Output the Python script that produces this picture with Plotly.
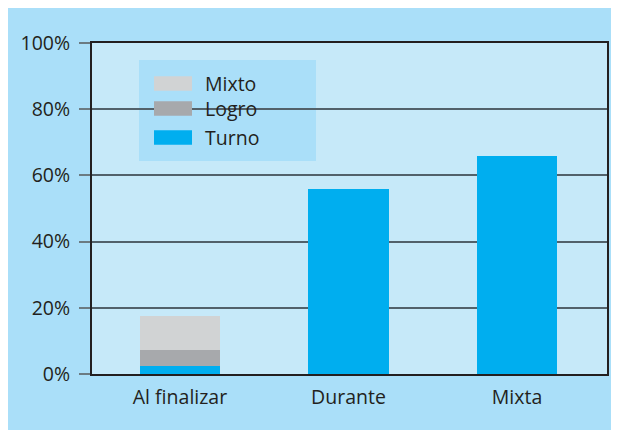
import plotly.graph_objects as go

categories = ["Al finalizar", "Durante", "Mixta"]
turno = [2.3, 56, 66]
logro = [5, 0, 0]
mixto = [10.3, 0, 0]

series_names = ["Turno", "Logro", "Mixto"]
series_colors = ["#00aeef", "#a7a9ac", "#d1d3d4"]
series_values = [turno, logro, mixto]

y_ticks = [0, 20, 40, 60, 80, 100]

W, H = 619, 430
OFF = 8  # page body margin
L, R, T, B = 92 - OFF, 607 - OFF, 43 - OFF, 374 - OFF
FONT = "Open Sans, Liberation Sans, Arial, sans-serif"
TXT = "#231f20"
FS = 19.5


def px_x(x):
    return (x - OFF - L) / (R - L)


def px_y(y):
    return (B - (y - OFF)) / (B - T)


fig = go.Figure()
for name, color, vals in zip(series_names, series_colors, series_values):
    fig.add_trace(go.Bar(
        x=categories, y=vals, name=name, marker_color=color,
        marker_line_width=0, width=0.475, showlegend=False,
    ))

shapes = [
    # legend box
    dict(type="rect", xref="paper", yref="paper", layer="between",
         x0=px_x(139), x1=px_x(316), y0=px_y(161), y1=px_y(60),
         fillcolor="#aadff9", line_width=0),
]
annotations = []
legend_rows = [("Mixto", 83.5), ("Logro", 108.5), ("Turno", 137.5)]
for label, yc in legend_rows:
    color = series_colors[series_names.index(label)]
    shapes.append(dict(type="rect", xref="paper", yref="paper", layer="above",
                       x0=px_x(154), x1=px_x(192), y0=px_y(yc + 7.2), y1=px_y(yc - 7.2),
                       fillcolor=color, line_width=0))
    annotations.append(dict(xref="paper", yref="paper", x=px_x(203), y=px_y(yc),
                            xanchor="left", yanchor="middle", text=label, showarrow=False,
                            font=dict(family=FONT, size=FS, color=TXT)))

fig.update_layout(
    width=W, height=H,
    margin=dict(l=L, r=W - R, t=T, b=H - B, pad=0),
    paper_bgcolor="#aadff9", plot_bgcolor="#c6e9f9",
    barmode="stack", bargap=0,
    shapes=shapes, annotations=annotations,
    showlegend=False,
    font=dict(family=FONT, size=FS, color=TXT),
)
fig.update_xaxes(
    type="category", range=[-0.522, 2.534], showgrid=False, ticks="",
    showline=True, mirror=True, linecolor=TXT, linewidth=2,
    tickfont=dict(family=FONT, size=FS, color=TXT), ticklabelstandoff=5,
)
fig.update_yaxes(
    range=[0, 100], tickvals=y_ticks, ticktext=[f"{v}%" for v in y_ticks],
    ticks="outside", ticklen=11, tickcolor="#6b7b82", tickwidth=2,
    showgrid=True, gridcolor="#52616a", gridwidth=1.5, zeroline=False,
    showline=True, mirror=True, linecolor=TXT, linewidth=2,
    tickfont=dict(family=FONT, size=FS, color=TXT), ticklabelstandoff=5,
)

fig.write_html("out.html")
